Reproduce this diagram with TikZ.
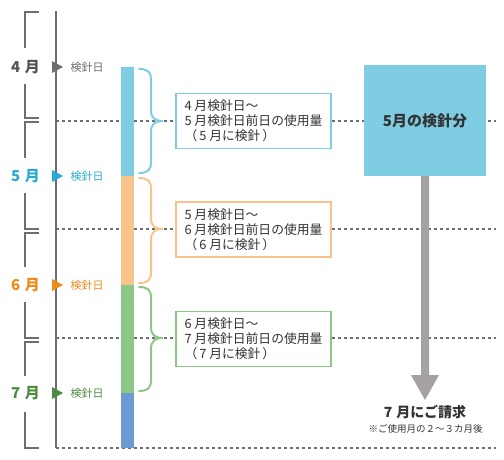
\documentclass[tikz,border=0pt]{standalone}
\usepackage{fontspec}
\setmainfont{Noto Sans CJK JP}
\definecolor{linegray}{HTML}{6E6E6E}
\definecolor{textdark}{HTML}{333333}
\definecolor{mgray}{HTML}{555555}
\definecolor{kgray}{HTML}{6E6E6E}
\definecolor{mcyan}{HTML}{2AAAD3}
\definecolor{morange}{HTML}{EF8A18}
\definecolor{mgreen}{HTML}{4B8C3E}
\definecolor{barcyan}{HTML}{7ECDE3}
\definecolor{barorange}{HTML}{F8C48A}
\definecolor{bargreen}{HTML}{8DC785}
\definecolor{barblue}{HTML}{6B9BD2}
\definecolor{arrowgray}{HTML}{A6A2A2}
\begin{document}
\begin{tikzpicture}[x=1pt,y=-1pt,
  dots/.style={line width=1.5pt, draw=linegray, dash pattern=on 3pt off 3pt},
  brk/.style={line width=2pt, draw=linegray},
  month/.style={font=\fontsize{15}{15}\selectfont\bfseries, anchor=east, inner sep=0pt},
  meter/.style={font=\fontsize{11}{11}\selectfont, anchor=west, inner sep=0pt},
  usebox/.style={draw, line width=1.8pt, fill=white, minimum width=155pt, minimum height=55pt,
    align=left, font=\fontsize{12.8}{15}\selectfont, text=textdark, inner sep=0pt},
  brc/.style={line width=2pt, line cap=round}
]
\useasboundingbox (0,0) rectangle (504,460);

% dotted guide lines
\foreach \y/\n in {121/a,229/b,338/c,448/d} {
  \coordinate (L\n) at (56,\y);
  \coordinate (R\n) at (496,\y);
  \draw[dots] (L\n) -- (R\n);
}

% main vertical time line
\coordinate (top) at (56,11);
\draw[line width=2pt, linegray] (top) -- (Ld);

% brackets
\foreach \t/\g/\h/\b in {12/48/84/118, 122/158/193/229, 233/267/302/338, 342/376/412/448} {
  \draw[brk] (39,\t) -- (25,\t) -- (25,\g);
  \draw[brk] (25,\h) -- (25,\b) -- (39,\b);
}

% month labels, triangles, meter-reading labels
\foreach \y/\m/\c/\k/\n in {67/4/mgray/kgray/a, 176/5/mcyan/mcyan/b, 285/6/morange/morange/c, 393/7/mgreen/mgreen/d} {
  \node[month, text=\c] (m\n) at (40,\y) {\m\hspace{4.5pt}月};
  \fill[\k] (52,\y-6) -- (63,\y) -- (52,\y+6) -- cycle;
  \node[meter, text=\k] (k\n) at (70.5,\y) {検針日};
}

% usage bar
\fill[barcyan] (121,67) rectangle (134,176);
\fill[barorange] (121,176) rectangle (134,285);
\fill[bargreen] (121,285) rectangle (134,393);
\fill[barblue] (121,393) rectangle (134,448);

% braces
\foreach \t/\m/\b/\c in {69/121/173/barcyan, 178/229/283/barorange, 287/338/391/bargreen} {
  \draw[brc, \c] (139,\t) .. controls (148,\t) and (151,\t+3) .. (151,\t+11)
    -- (151,\m-11) .. controls (151,\m-3) and (155,\m) .. (163,\m)
    .. controls (155,\m) and (151,\m+3) .. (151,\m+11)
    -- (151,\b-11) .. controls (151,\b-3) and (148,\b) .. (139,\b);
}

% usage boxes
\node[usebox, draw=barcyan] (u1) at (253.5,121) {4 月検針日〜\\5 月検針日前日の使用量\\（\kern2pt 5 月に検針\kern2pt）};
\node[usebox, draw=barorange] (u2) at (253.5,229.7) {5 月検針日〜\\6 月検針日前日の使用量\\（\kern2pt 6 月に検針\kern2pt）};
\node[usebox, draw=bargreen] (u3) at (253.5,339) {6 月検針日〜\\7 月検針日前日の使用量\\（\kern2pt 7 月に検針\kern2pt）};

% big box
\node[fill=barcyan, minimum width=122pt, minimum height=111pt, inner sep=0pt,
  font=\fontsize{15}{15}\selectfont\bfseries, text=textdark] (big) at (425,120.5) {5月の検針分};

% arrow
\coordinate (tip) at (425,400);
\fill[arrowgray] (big.south) ++(-4,0) -- ++(0,199) -- ++(-10,0) -- (tip) -- ++(14,-25) -- ++(-10,0) -- ++(0,-199) -- cycle;

% billing text
\node[font=\fontsize{14}{14}\selectfont\bfseries, text=textdark, inner sep=0pt] (bill) at (425,412) {7\hspace{4pt}月にご請求};
\node[font=\fontsize{9.5}{9.5}\selectfont, text=textdark, inner sep=0pt] (note) at (425.5,429) {※ご使用月の２〜３カ月後};
\end{tikzpicture}
\end{document}
